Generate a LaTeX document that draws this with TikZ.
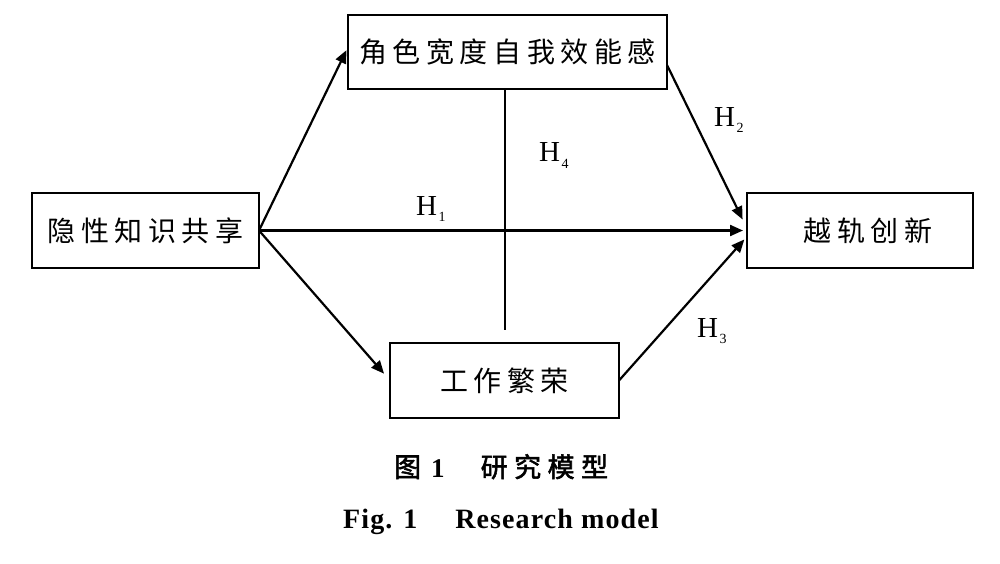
\documentclass[tikz,border=0pt]{standalone}
\usepackage{fontspec}
\setmainfont{Liberation Serif}
\newfontfamily\cjk{Noto Sans CJK SC}
\newfontfamily\cjkhei{Noto Sans CJK SC}[BoldFont={Noto Sans CJK SC}, BoldFeatures={FakeBold=2}]
\newfontfamily\cjkcap{Noto Sans CJK SC}[LetterSpace=24, BoldFont={Noto Sans CJK SC}, BoldFeatures={FakeBold=2, LetterSpace=24}]
\usetikzlibrary{arrows.meta}
\newcommand\cg{\kern5.5pt}
\newcommand\hsub[1]{\kern1.5pt\raisebox{-6pt}{\fontsize{14}{14}\selectfont #1}}
\begin{document}
\begin{tikzpicture}[x=1pt,y=-1pt,
  box/.style={draw, line width=2.8pt, inner sep=0pt, outer sep=0pt,
    font=\cjk\fontsize{28}{28}\selectfont},
  arr/.style={line width=2.2pt, -{Triangle[length=13pt,width=11pt]}},
  hl/.style={anchor=base west, inner sep=0pt, font=\fontsize{29}{29}\selectfont},
  captxt/.style={anchor=base west, inner sep=0pt}]
\useasboundingbox (0,0) rectangle (1000,564);
\fill[white] (0,0) rectangle (1000,564);

\node[box, minimum width=319pt, minimum height=74pt] (rse) at (507.5,52)
  {角\cg{}色\cg{}宽\cg{}度\cg{}自\cg{}我\cg{}效\cg{}能\cg{}感};
\node[box, minimum width=227pt, minimum height=75pt] (tks) at (145.5,230.5)
  {隐\cg{}性\cg{}知\cg{}识\cg{}共\cg{}享};
\node[box, minimum width=226pt, minimum height=75pt] (dvi) at (860,230.5)
  {\hspace*{16pt}越\cg{}轨\cg{}创\cg{}新};
\node[box, minimum width=229pt, minimum height=75pt] (wth) at (504.5,380.5)
  {工\cg{}作\cg{}繁\cg{}荣};

\draw[arr, shorten >=3.5pt] (tks.east) -- ([yshift=5pt]rse.west);
\draw[arr, shorten >=4pt] (tks.east) -- (dvi.west);
\draw[arr, shorten >=9pt] (tks.east) -- (wth.west);
\draw[arr, shorten >=10pt] ([yshift=-13pt]rse.east) -- ([yshift=2pt]dvi.west);
\draw[arr, shorten >=4pt] (wth.east) -- ([yshift=-6pt]dvi.west);
\coordinate (m4) at (505,330);
\draw[line width=2.4pt] (rse.south -| m4) -- (m4);

\node[hl] (h1) at (416,215) {H\hsub{1}};
\node[hl] (h2) at (714,127) {H\hsub{2}};
\node[hl] (h3) at (697,337) {H\hsub{3}};
\node[hl] (h4) at (539,162) {H\hsub{4}};

\node[captxt] (c1) at (394,477)
  {{\cjkhei\bfseries\fontsize{27}{27}\selectfont 图}\kern10pt{\fontsize{27}{27}\selectfont\bfseries 1}\kern36pt{\cjkcap\bfseries\fontsize{27}{27}\selectfont 研究模型}};
\node[captxt] (c2) at (343,528)
  {\addfontfeature{LetterSpace=4}\fontsize{28}{28}\selectfont\bfseries Fig. 1\kern38pt Research model};
\end{tikzpicture}
\end{document}
